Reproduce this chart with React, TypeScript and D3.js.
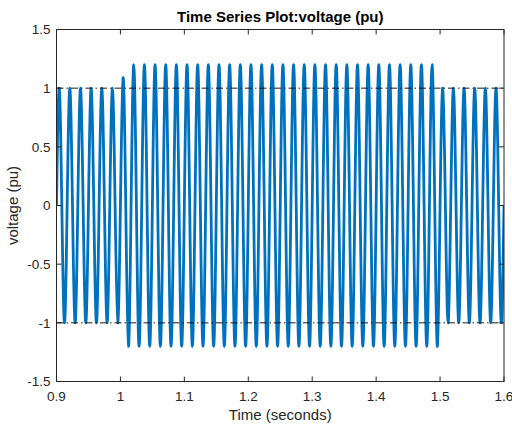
import React from "react";
import * as d3 from "d3";

// Positive peak (per 60 Hz cycle)
const posPeaks = [
  1, 1, 1, 1, 1, 1,
  1.09,
  1.2, 1.2, 1.2, 1.2, 1.2, 1.2, 1.2, 1.2, 1.2, 1.2,
  1.2, 1.2, 1.2, 1.2, 1.2, 1.2, 1.2, 1.2, 1.2, 1.2,
  1.2, 1.2, 1.2, 1.2, 1.2, 1.2, 1.2, 1.2, 1.2,
  1, 1, 1, 1, 1, 1,
];
// Negative trough per cycle
const negTroughs = [
  -1, -1, -1, -1, -1, -1,
  -1.2, -1.2, -1.2, -1.2, -1.2, -1.2, -1.2, -1.2, -1.2, -1.2,
  -1.2, -1.2, -1.2, -1.2, -1.2, -1.2, -1.2, -1.2, -1.2, -1.2,
  -1.2, -1.2, -1.2, -1.2, -1.2, -1.2, -1.2, -1.2, -1.2, -1.2,
  -1, -1, -1, -1, -1, -1,
];
const startTime = 0.9;
const freqHz = 60;
const refLevels = [1, -1];
const xTicks = [0.9, 1, 1.1, 1.2, 1.3, 1.4, 1.5, 1.6];
const yTicks = [-1.5, -1, -0.5, 0, 0.5, 1, 1.5];
const titleText = "Time Series Plot:voltage (pu)";
const xLabel = "Time (seconds)";
const yLabel = "voltage (pu)";

const W = 512;
const H = 426;
const L = 56.5, R = 504, T = 29.5, B = 381.5;
const axisColor = "#262626";
const font = "'Liberation Sans', Arial, Helvetica, sans-serif";

export default function App() {
  const x = d3.scaleLinear().domain([0.9, 1.6]).range([L, R]);
  const y = d3.scaleLinear().domain([-1.5, 1.5]).range([B, T]);

  const period = 1 / freqHz;
  const pts: [number, number][] = [];
  posPeaks.forEach((p, c) => {
    const t0 = startTime + c * period;
    pts.push([t0, 0]);
    pts.push([t0 + period / 4, p]);
    pts.push([t0 + period / 2, 0]);
    pts.push([t0 + (3 * period) / 4, negTroughs[c]]);
  });
  pts.push([startTime + posPeaks.length * period, 0]);

  const line = d3
    .line<[number, number]>()
    .x((d) => x(d[0]))
    .y((d) => y(d[1]))
    .curve(d3.curveNatural);

  const fmt = (v: number) => String(v);
  const tl = 5;

  return (
    <svg
      width={W}
      height={H}
      style={{ position: "absolute", left: 0, top: 0, background: "#fff" }}
    >
      <rect x={0} y={0} width={W} height={H} fill="#fff" />
      <defs>
        <clipPath id="plotClip">
          <rect x={L} y={T} width={R - L} height={B - T} />
        </clipPath>
      </defs>
      <g clipPath="url(#plotClip)">
        <path
          d={line(pts) || ""}
          fill="none"
          stroke="#0072BD"
          strokeWidth={2.8}
          strokeLinejoin="round"
        />
        {refLevels.map((v) => (
          <line
            key={v}
            x1={L}
            x2={R}
            y1={y(v)}
            y2={y(v)}
            stroke="#000"
            strokeWidth={0.9}
            strokeDasharray="7,3,1.5,3"
          />
        ))}
      </g>
      {/* box */}
      <rect x={L} y={T} width={R - L} height={B - T} fill="none" stroke={axisColor} strokeWidth={1} />
      {xTicks.map((v) => (
        <g key={"x" + v}>
          <line x1={x(v)} x2={x(v)} y1={B} y2={B - tl} stroke={axisColor} />
          <line x1={x(v)} x2={x(v)} y1={T} y2={T + tl} stroke={axisColor} />
          <text
            x={x(v)}
            y={B + 19}
            textAnchor="middle"
            fontFamily={font}
            fontSize={13.5}
            fill={axisColor}
          >
            {fmt(v)}
          </text>
        </g>
      ))}
      {yTicks.map((v) => (
        <g key={"y" + v}>
          <line x1={L} x2={L + tl} y1={y(v)} y2={y(v)} stroke={axisColor} />
          <line x1={R} x2={R - tl} y1={y(v)} y2={y(v)} stroke={axisColor} />
          <text
            x={L - 6}
            y={y(v)}
            dy="0.35em"
            textAnchor="end"
            fontFamily={font}
            fontSize={13.5}
            fill={axisColor}
          >
            {fmt(v)}
          </text>
        </g>
      ))}
      <text
        x={(L + R) / 2}
        y={22}
        textAnchor="middle"
        fontFamily={font}
        fontSize={15}
        fontWeight="bold"
        fill="#000"
      >
        {titleText}
      </text>
      <text
        x={(L + R) / 2}
        y={420}
        textAnchor="middle"
        fontFamily={font}
        fontSize={15}
        fill={axisColor}
      >
        {xLabel}
      </text>
      <text
        transform={`translate(18,${(T + B) / 2}) rotate(-90)`}
        textAnchor="middle"
        fontFamily={font}
        fontSize={15}
        fill={axisColor}
      >
        {yLabel}
      </text>
    </svg>
  );
}
